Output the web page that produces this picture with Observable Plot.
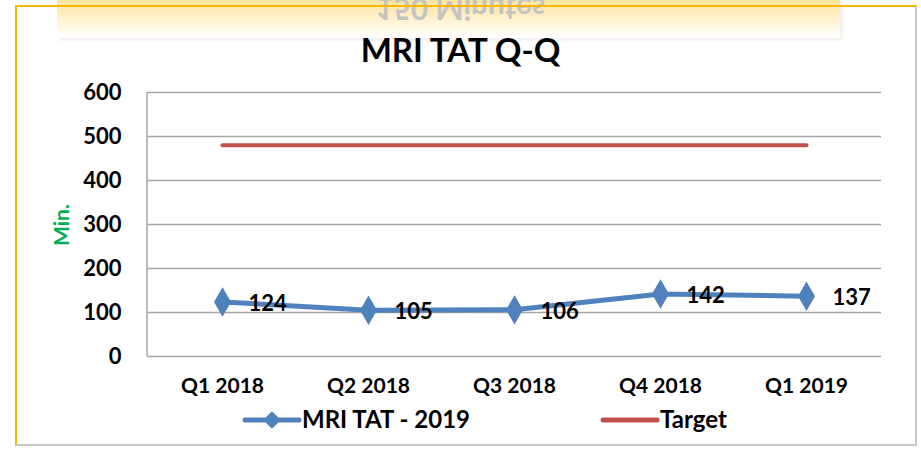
<!DOCTYPE html>
<html><head><meta charset="utf-8">
<script src="https://cdn.jsdelivr.net/npm/d3@7"></script>
<script src="https://cdn.jsdelivr.net/npm/@observablehq/plot@0.6"></script>
<style>
body{margin:0;background:#fff;font-family:Lato,"Open Sans",sans-serif;}
#wrap{position:relative;width:921px;height:449px;overflow:hidden;background:#fff;}
#frame{position:absolute;left:15px;top:5px;width:902px;height:441px;border-left:2px solid #f5b800;border-top:2px solid #f5b800;border-right:2px solid #c8c8c8;border-bottom:2px solid #c8c8c8;box-sizing:border-box;}
#band{position:absolute;left:57px;top:0;width:783px;height:38px;background:linear-gradient(#fde49a,#fff5d8 60%,#ffffff);box-shadow:2px 2px 4px rgba(0,0,0,0.08);}
#mirror{position:absolute;left:0;width:921px;top:-8px;text-align:center;font-weight:bold;font-size:30px;color:#c4c4c4;transform:scaleY(-1);}
#title{position:absolute;left:0;width:921px;top:29px;text-align:center;font-weight:bold;font-size:33px;color:#000;}
#ylab{position:absolute;left:60px;top:225px;transform:translate(-50%,-50%) rotate(-90deg);font-weight:bold;font-size:21px;color:#00b050;}
#plot{position:absolute;left:0;top:0;}
#legend{position:absolute;left:0;top:405px;width:921px;height:30px;}
</style></head>
<body><div id="wrap">
<div id="band"></div><div id="mirror">150 Minutes</div>
<div id="frame"></div>
<div id="title">MRI TAT Q-Q</div>
<div id="ylab">Min.</div>
<div id="plot"></div>
<div id="legend"></div>
</div>
<script>
const quarters = ["Q1 2018","Q2 2018","Q3 2018","Q4 2018","Q1 2019"];
const tatValues = [124,105,106,142,137];
const targetValues = [480,480,480,480,480];
const yTicks = [0,100,200,300,400,500,600];
const seriesNames = ["MRI TAT - 2019","Target"];

const tat = quarters.map((q,i)=>({q, v: tatValues[i]}));
const target = quarters.map((q,i)=>({q, v: targetValues[i]}));

const blue = "#4f81bd", red = "#c0504d";

const chart = Plot.plot({
  width: 921, height: 410,
  marginLeft: 147, marginRight: 40, marginTop: 92, marginBottom: 54,
  style: {fontFamily: "Lato, sans-serif", fontWeight: "bold", fontSize: "21px", background: "transparent", color: "#000"},
  x: {type: "point", domain: quarters, padding: 0.5, label: null},
  y: {domain: [0,600], ticks: yTicks, label: null},
  marks: [
    Plot.gridY(yTicks, {stroke: "#a6a6a6", strokeOpacity: 1, strokeWidth: 1.5}),
    Plot.axisY({ticks: yTicks, tickSize: 0, tickPadding: 26, fontSize: 22, fontWeight: "bold"}),
    Plot.axisX({tickSize: 0, tickPadding: 22, fontSize: 21, fontWeight: "bold"}),
    Plot.line(target, {x: "q", y: "v", stroke: red, strokeWidth: 4}),
    Plot.line(tat, {x: "q", y: "v", stroke: blue, strokeWidth: 5}),
    Plot.dot(tat, {x: "q", y: "v", symbol: "diamond", r: 8, fill: blue, stroke: blue}),
    Plot.text(tat, {x: "q", y: "v", text: d => String(d.v), textAnchor: "start", dx: 26, dy: 2, fontSize: 22, fontWeight: "bold", fill: "#000"})
  ]
});
const svgNS = "http://www.w3.org/2000/svg";
const ln = document.createElementNS(svgNS, "line");
ln.setAttribute("x1",147); ln.setAttribute("x2",147); ln.setAttribute("y1",92); ln.setAttribute("y2",356);
ln.setAttribute("stroke","#a6a6a6"); ln.setAttribute("stroke-width","1.5");
chart.appendChild(ln);
document.getElementById("plot").appendChild(chart);

const leg = d3.select("#legend").append("svg").attr("width",921).attr("height",30);
const items = [{name: seriesNames[0], color: blue, x: 245, marker: true},{name: seriesNames[1], color: red, x: 603, marker: false}];
for (const it of items) {
  const g = leg.append("g");
  g.append("line").attr("x1", it.x).attr("x2", it.x+54).attr("y1",15).attr("y2",15).attr("stroke", it.color).attr("stroke-width",5).attr("stroke-linecap","round");
  if (it.marker) g.append("path").attr("d", d3.symbol(d3.symbolDiamond2, 200)()).attr("transform",`translate(${it.x+27},15)`).attr("fill", it.color);
  g.append("text").attr("x", it.x+57).attr("y", 23).text(it.name).attr("font-family","Lato, sans-serif").attr("font-weight","bold").attr("font-size",24);
}
</script>
</body></html>
